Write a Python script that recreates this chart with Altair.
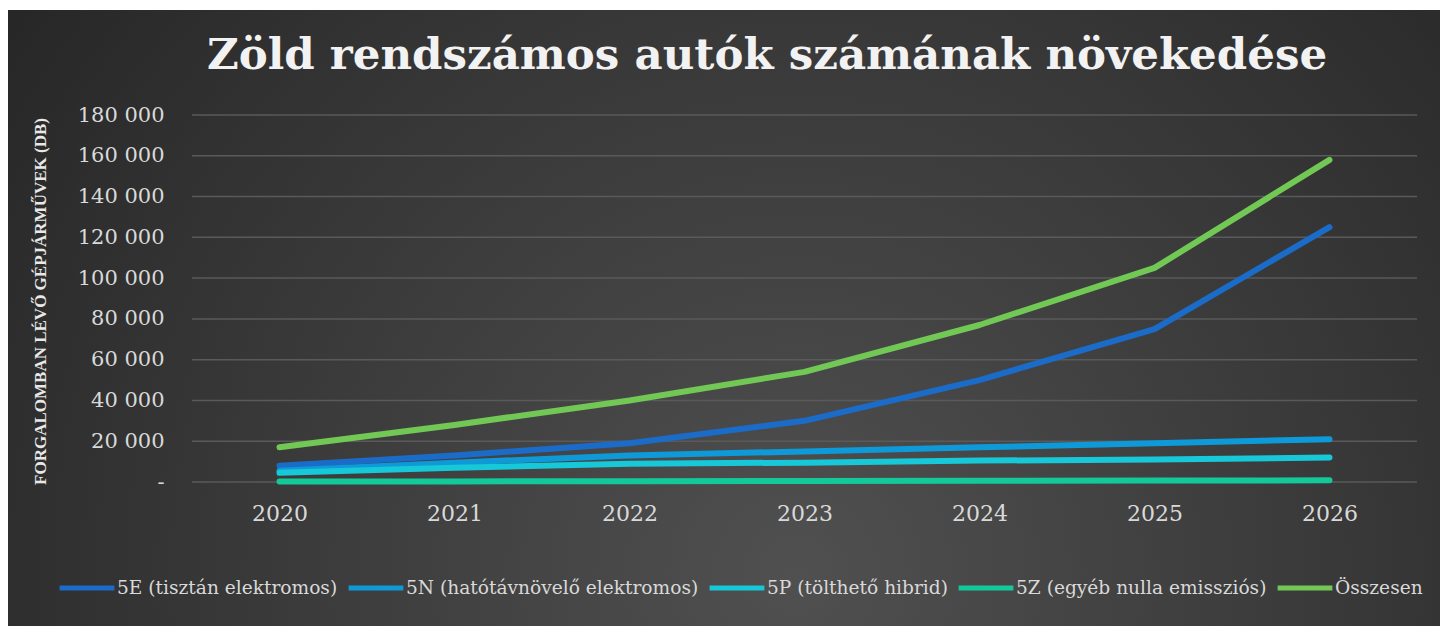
import altair as alt
import pandas as pd

years = ["2020", "2021", "2022", "2023", "2024", "2025", "2026"]
series_names = [
    "5E (tisztán elektromos)",
    "5N (hatótávnövelő elektromos)",
    "5P (tölthető hibrid)",
    "5Z (egyéb nulla emissziós)",
    "Összesen",
]
v_5e = [8000, 13000, 19000, 30000, 50000, 75000, 125000]
v_5n = [5500, 9500, 13000, 15000, 17000, 19000, 21000]
v_5p = [4500, 7000, 9000, 9500, 10500, 11000, 12000]
v_5z = [200, 300, 400, 500, 600, 700, 800]
v_total = [17000, 28000, 40000, 54000, 77000, 105000, 158000]
colors = ["#1b6cc8", "#0e9ad8", "#17c8d8", "#13c99a", "#72c855"]
y_ticks = [0, 20000, 40000, 60000, 80000, 100000, 120000, 140000, 160000, 180000]

title_text = "Zöld rendszámos autók számának növekedése"
y_title = "FORGALOMBAN LÉVŐ GÉPJÁRMŰVEK (DB)"

rows = []
for name, vals in zip(series_names, [v_5e, v_5n, v_5p, v_5z, v_total]):
    for yr, v in zip(years, vals):
        rows.append({"Év": yr, "Sorozat": name, "Darab": v})
df = pd.DataFrame(rows)
grid_df = pd.DataFrame({"Darab": y_ticks})

W, H = 1225, 367
PAD_L, PAD_T = 192, 115

bg = alt.Chart(pd.DataFrame({"k": [0]})).mark_rect(
    fill={
        "gradient": "radial",
        "x1": 0.55, "y1": 0.68, "r1": 0,
        "x2": 0.55, "y2": 0.68, "r2": 0.72,
        "stops": [
            {"offset": 0, "color": "#505050"},
            {"offset": 1, "color": "#242424"},
        ],
    }
).encode(
    x=alt.value(8 - PAD_L), x2=alt.value(1440 - PAD_L),
    y=alt.value(10 - PAD_T), y2=alt.value(626 - PAD_T),
)

title = alt.Chart(pd.DataFrame({"k": [0]})).mark_text(
    text=title_text, font="DejaVu Serif", fontSize=43.5, fontWeight="bold",
    color="#f2f2f2", align="center", baseline="alphabetic",
).encode(x=alt.value(767 - PAD_L), y=alt.value(69 - PAD_T))

yscale = alt.Scale(domain=[0, 180000])

grid = alt.Chart(grid_df).mark_rule(color="#5a5a5a", strokeWidth=1.5).encode(
    y=alt.Y("Darab:Q", scale=yscale),
    x=alt.value(0), x2=alt.value(W),
)

lines = alt.Chart(df).mark_line(strokeWidth=6, strokeCap="round", strokeJoin="round").encode(
    x=alt.X("Év:O", scale=alt.Scale(type="point", padding=0.5),
            axis=alt.Axis(title=None, labelAngle=0, labelFont="DejaVu Serif", labelFontSize=22,
                          labelColor="#d9d9d9", ticks=False, tickSize=0, domain=False,
                          labelPadding=21, grid=False, zindex=1)),
    y=alt.Y("Darab:Q", scale=yscale,
            axis=alt.Axis(values=y_ticks, title=y_title, titleFont="Liberation Serif",
                          titleFontSize=17, titleFontWeight="bold", titleColor="#e8e8e8",
                          titleAngle=270, titleX=-152, titleY=186, titleAlign="center",
                          titleBaseline="middle",
                          labelFont="DejaVu Serif", labelFontSize=21, labelColor="#d9d9d9",
                          labelExpr="datum.value == 0 ? '-' : replace(format(datum.value, ',d'), ',', ' ')",
                          ticks=False, tickSize=0, domain=False, labelPadding=28,
                          grid=False, zindex=1)),
    color=alt.Color("Sorozat:N", sort=series_names,
                    scale=alt.Scale(domain=series_names, range=colors),
                    legend=alt.Legend(title=None, orient="none", direction="horizontal",
                                      legendX=57 - PAD_L, legendY=443, symbolType="stroke",
                                      symbolSize=3000, symbolStrokeWidth=5,
                                      labelFont="DejaVu Serif", labelFontSize=18.6,
                                      labelColor="#d9d9d9", labelOffset=0, columnPadding=0,
                                      labelLimit=0, padding=0)),
    order=alt.Order("Év:O"),
)

chart = alt.layer(bg, title, grid, lines).properties(
    width=W, height=H,
    padding={"left": PAD_L, "top": PAD_T, "right": 1440 - PAD_L - W, "bottom": 626 - PAD_T - H},
    autosize=alt.AutoSizeParams(type="none"),
    background="white",
).configure_view(stroke=None)

chart.save("out.html", embed_options={"renderer": "svg", "actions": False})
